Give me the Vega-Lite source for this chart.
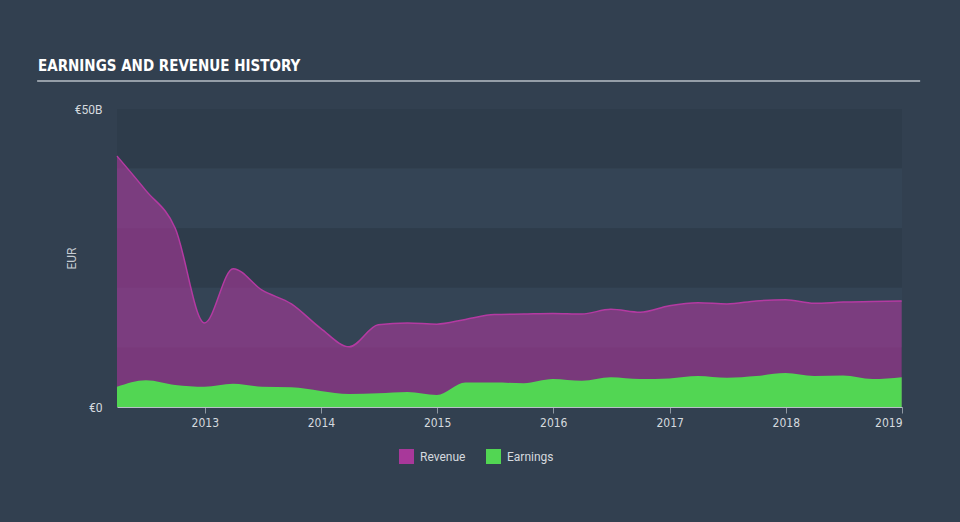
{
  "$schema": "https://vega.github.io/schema/vega-lite/v6.json",
  "width": 785,
  "height": 298,
  "autosize": {"type": "none"},
  "padding": {"left": 117, "top": 109, "right": 58, "bottom": 115},
  "background": "#324050",
  "title": {
    "text": "EARNINGS AND REVENUE HISTORY",
    "anchor": "start",
    "frame": "group",
    "dx": -79,
    "fontSize": 15,
    "font": "DejaVu Sans Condensed, Liberation Sans Narrow, sans-serif",
    "fontWeight": "bold",
    "color": "#ffffff",
    "offset": 6
  },
  "config": {
    "view": {"stroke": null},
    "axis": {"labelFont": "Roboto", "titleFont": "Roboto"},
    "legend": {"labelFont": "Roboto"}
  },
  "datasets": {
    "hist": [
      {"date": "2012-03-31", "Revenue": 42.1, "Earnings": 3.4},
      {"date": "2012-06-30", "Revenue": 36.3, "Earnings": 4.5},
      {"date": "2012-09-30", "Revenue": 30.0, "Earnings": 3.7},
      {"date": "2012-12-31", "Revenue": 14.1, "Earnings": 3.4},
      {"date": "2013-03-31", "Revenue": 23.2, "Earnings": 3.9},
      {"date": "2013-06-30", "Revenue": 19.6, "Earnings": 3.4},
      {"date": "2013-09-30", "Revenue": 17.3, "Earnings": 3.3},
      {"date": "2013-12-31", "Revenue": 13.2, "Earnings": 2.7},
      {"date": "2014-03-31", "Revenue": 10.1, "Earnings": 2.2},
      {"date": "2014-06-30", "Revenue": 13.8, "Earnings": 2.3},
      {"date": "2014-09-30", "Revenue": 14.1, "Earnings": 2.5},
      {"date": "2014-12-31", "Revenue": 13.9, "Earnings": 2.0},
      {"date": "2015-03-31", "Revenue": 14.7, "Earnings": 4.1},
      {"date": "2015-06-30", "Revenue": 15.5, "Earnings": 4.1},
      {"date": "2015-09-30", "Revenue": 15.6, "Earnings": 4.0},
      {"date": "2015-12-31", "Revenue": 15.7, "Earnings": 4.7},
      {"date": "2016-03-31", "Revenue": 15.6, "Earnings": 4.4},
      {"date": "2016-06-30", "Revenue": 16.4, "Earnings": 5.0},
      {"date": "2016-09-30", "Revenue": 15.9, "Earnings": 4.7},
      {"date": "2016-12-31", "Revenue": 17.0, "Earnings": 4.8},
      {"date": "2017-03-31", "Revenue": 17.5, "Earnings": 5.2},
      {"date": "2017-06-30", "Revenue": 17.3, "Earnings": 4.9},
      {"date": "2017-09-30", "Revenue": 17.8, "Earnings": 5.2},
      {"date": "2017-12-31", "Revenue": 18.0, "Earnings": 5.7},
      {"date": "2018-03-31", "Revenue": 17.4, "Earnings": 5.2},
      {"date": "2018-06-30", "Revenue": 17.6, "Earnings": 5.3},
      {"date": "2018-09-30", "Revenue": 17.7, "Earnings": 4.7},
      {"date": "2018-12-31", "Revenue": 17.8, "Earnings": 5.0}
    ],
    "bands": [
      {"lo": 40, "hi": 50, "shade": "dark"},
      {"lo": 30, "hi": 40, "shade": "light"},
      {"lo": 20, "hi": 30, "shade": "dark"},
      {"lo": 10, "hi": 20, "shade": "light"},
      {"lo": 0, "hi": 10, "shade": "dark"}
    ]
  },
  "layer": [
    {
      "data": {"name": "bands"},
      "mark": {"type": "rect"},
      "encoding": {
        "y": {"field": "lo", "type": "quantitative", "scale": {"domain": [0, 50]}},
        "y2": {"field": "hi"},
        "fill": {
          "field": "shade", "type": "nominal",
          "scale": {"domain": ["dark", "light"], "range": ["#2e3c4b", "#344455"]},
          "legend": null
        }
      }
    },
    {
      "data": {"values": [{}]},
      "mark": {"type": "rule", "color": "#959ea8", "strokeWidth": 2, "clip": false},
      "encoding": {
        "x": {"datum": {"year": 2011, "month": 7, "date": 24}, "type": "temporal"},
        "x2": {"datum": {"year": 2019, "month": 2, "date": 27}},
        "y": {"datum": 54.7, "type": "quantitative"}
      }
    },
    {
      "data": {"name": "hist"},
      "transform": [{"fold": ["Revenue", "Earnings"], "as": ["series", "value"]}, {"filter": "datum.series == 'Revenue'"}],
      "mark": {"type": "area", "interpolate": "monotone", "fillOpacity": 0.62},
      "encoding": {
        "x": {
          "field": "date", "type": "temporal",
          "scale": {"domain": ["2012-03-31", "2019-01-01"]},
          "axis": {
            "title": null, "format": "%Y",
            "tickCount": {"interval": "year", "step": 1},
            "grid": false,
            "domainColor": "#b9c0c8", "tickColor": "#8f98a2", "tickSize": 6,
            "labelColor": "#d5dadf", "labelFontSize": 12,
            "labelFont": "DejaVu Sans Condensed, Liberation Sans Narrow, sans-serif",
            "labelPadding": 4
          }
        },
        "y": {
          "field": "value", "type": "quantitative", "stack": null,
          "scale": {"domain": [0, 50]},
          "axis": {
            "title": "EUR", "values": [0, 50],
            "labelExpr": "datum.value == 0 ? '€0' : '€' + datum.value + 'B'",
            "grid": false, "domain": false, "ticks": false,
            "labelColor": "#d5dadf", "labelFontSize": 12, "labelPadding": 15,
            "titleColor": "#c8cdd3", "titleFontSize": 12, "titleFontWeight": "normal",
            "titlePadding": -4
          }
        },
        "color": {
          "field": "series", "type": "nominal",
          "scale": {"domain": ["Revenue", "Earnings"], "range": ["#a8389a", "#52d653"]},
          "legend": {
            "title": null, "orient": "none", "legendX": 282, "legendY": 340,
            "direction": "horizontal", "padding": 0,
            "symbolType": "square", "symbolSize": 225, "symbolOpacity": 1,
            "symbolStrokeWidth": 0, "labelOffset": 6,
            "labelColor": "#d5dadf", "labelFontSize": 12, "columnPadding": 20
          }
        }
      }
    },
    {
      "data": {"name": "hist"},
      "mark": {"type": "line", "interpolate": "monotone", "color": "#b43aa2", "strokeWidth": 1.5},
      "encoding": {
        "x": {"field": "date", "type": "temporal"},
        "y": {"field": "Revenue", "type": "quantitative"}
      }
    },
    {
      "data": {"name": "hist"},
      "transform": [{"fold": ["Revenue", "Earnings"], "as": ["series", "value"]}, {"filter": "datum.series == 'Earnings'"}],
      "mark": {"type": "area", "interpolate": "monotone", "fillOpacity": 1},
      "encoding": {
        "x": {"field": "date", "type": "temporal"},
        "y": {"field": "value", "type": "quantitative", "stack": null},
        "color": {"field": "series", "type": "nominal"}
      }
    }
  ]
}
